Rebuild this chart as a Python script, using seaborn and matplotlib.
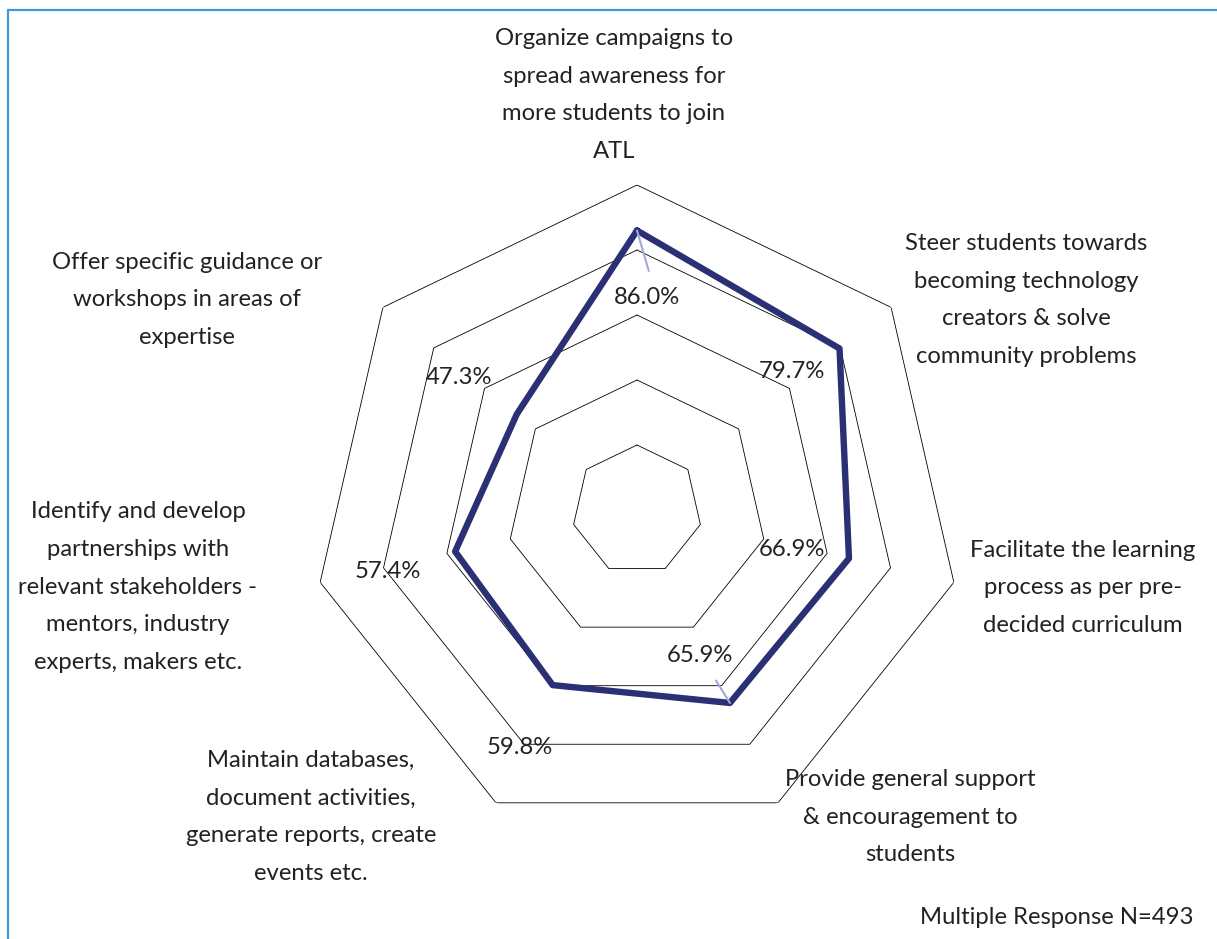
import numpy as np
import pandas as pd
import matplotlib
matplotlib.use("Agg")
import matplotlib.pyplot as plt
import seaborn as sns
from matplotlib.lines import Line2D

sns.set_theme(style="white")
plt.rcParams['font.family'] = ['Lato', 'DejaVu Sans']

categories = [
    "Organize campaigns to\nspread awareness for\nmore students to join\nATL",
    "Steer students towards\nbecoming technology\ncreators & solve\ncommunity problems",
    "Facilitate the learning\nprocess as per pre-\ndecided curriculum",
    "Provide general support\n& encouragement to\nstudents",
    "Maintain databases,\ndocument activities,\ngenerate reports, create\nevents etc.",
    "Identify and develop\npartnerships with\nrelevant stakeholders -\nmentors, industry\nexperts, makers etc.",
    "Offer specific guidance or\nworkshops in areas of\nexpertise",
]
values = [86.0, 79.7, 66.9, 65.9, 59.8, 57.4, 47.3]
value_labels = ["86.0%", "79.7%", "66.9%", "65.9%", "59.8%", "57.4%", "47.3%"]
grid_levels = [20, 40, 60, 80, 100]
note = "Multiple Response N=493"

W, H = 1217, 939
fig = plt.figure(figsize=(W / 100, H / 100), dpi=100)
fig.patch.set_facecolor("white")

def fx(x):
    return x / W

def fy(y):
    return 1 - y / H

# polar axes centred at (637, 510) px, radius 325 px
cx, cy, R = 637, 510, 325
ax = fig.add_axes([fx(cx - R), fy(cy + R), 2 * R / W, 2 * R / H], projection="polar")
ax.set_theta_zero_location("N")
ax.set_theta_direction(-1)
ax.set_ylim(0, 100)
ax.grid(False)
ax.spines["polar"].set_visible(False)
ax.set_xticks([])
ax.set_yticks([])
ax.set_facecolor("none")

n = len(categories)
theta = np.arange(n) * 2 * np.pi / n
theta_c = np.append(theta, theta[0])

for lvl in grid_levels:
    ax.plot(theta_c, [lvl] * (n + 1), color="black", lw=0.6, zorder=1)

df = pd.DataFrame({"theta": theta_c, "value": values + [values[0]]})
sns.lineplot(data=df, x="theta", y="value", sort=False, ax=ax,
             color="#2B2F73", lw=4.6, zorder=3, estimator=None)
ax.set_xlabel("")
ax.set_ylabel("")

txt_color = "#222222"
fs = 17.2

# category labels
cat_pos = [(614, 95), (1026, 300), (1083, 588), (910, 817),
           (311, 817), (138, 587), (187, 300)]
for lab, (x, y) in zip(categories, cat_pos):
    fig.text(fx(x), fy(y), lab, ha="center", va="center", fontsize=fs,
             color=txt_color, linespacing=1.98)

# value labels
val_pos = [(647, 298), (792, 372), (792, 549), (700, 655),
           (520, 747), (388, 571), (459, 377)]
leader = {0: (0.6, 1.0), 3: (0.6, 0.0)}
for i, (lab, (x, y)) in enumerate(zip(value_labels, val_pos)):
    if i in leader:
        ax.annotate(lab, xy=(theta[i], values[i]), xycoords="data",
                    xytext=(fx(x), fy(y)), textcoords="figure fraction",
                    ha="center", va="center", fontsize=fs, color=txt_color,
                    arrowprops=dict(arrowstyle="-", color="#A3A6DE", lw=1.5,
                                    relpos=leader[i], shrinkA=10, shrinkB=0),
                    zorder=4)
    else:
        fig.text(fx(x), fy(y), lab, ha="center", va="center", fontsize=fs,
                 color=txt_color)

fig.text(fx(1193), fy(918), note, ha="right", va="center", fontsize=fs,
         color=txt_color)

# blue frame (top and left edges)
fig.add_artist(Line2D([fx(8), 1.0], [fy(10), fy(10)], color="#3D9BDD", lw=1.6))
fig.add_artist(Line2D([fx(8), fx(8)], [fy(10), 0.0], color="#3D9BDD", lw=1.6))

fig.savefig("out.png", dpi=100, facecolor="white")
